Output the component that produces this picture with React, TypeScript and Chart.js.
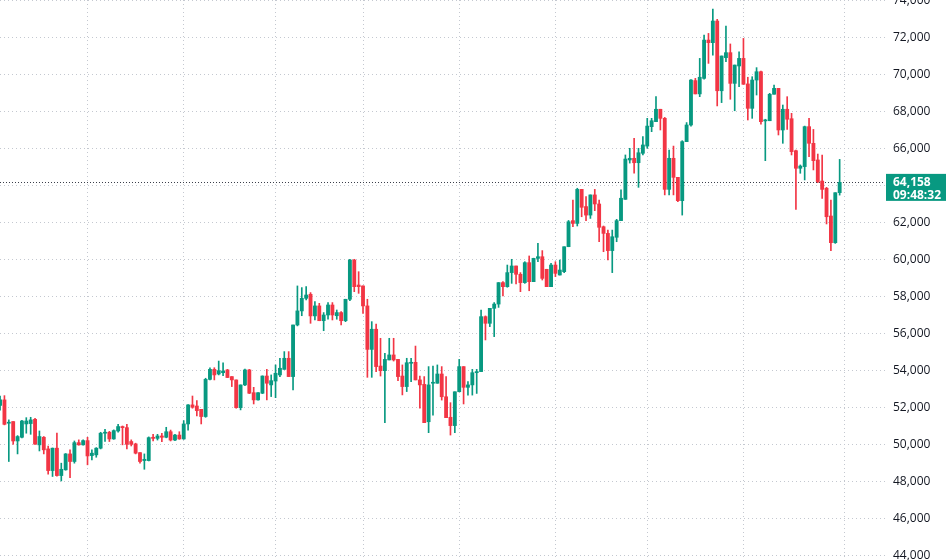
import React, { useEffect, useRef } from "react";
import { Chart, registerables } from "chart.js";

Chart.register(...registerables);

// ---- Data ----
const opens = [
  52100, 52400, 51140, 51230, 50180, 50380, 51100, 51120, 51350, 49970,
  50380, 49750, 48580, 49790, 48310, 48620, 49480, 49070, 50090, 49970,
  50200, 49390, 49430, 49790, 50600, 50650, 50290, 50720, 50960, 50900,
  50150, 50020, 49550, 49120, 49120, 50380, 50320, 50450, 50380, 50680,
  50230, 50500, 50290, 51100, 52130, 52070, 51890, 51500, 53510, 54050,
  53800, 53870, 54020, 53660, 53480, 51980, 53210, 54020, 52790, 52400,
  52760, 53690, 53210, 53420, 53750, 54050, 54650, 53660, 56450, 57210,
  57890, 58110, 56940, 57480, 56680, 56990, 57530, 56950, 57120, 56680,
  57840, 59960, 58610, 58560, 57480, 55130, 56220, 54230, 53980, 54560,
  54830, 54590, 53690, 53120, 54380, 54430, 53480, 53240, 51220, 53300,
  53300, 53800, 52570, 51460, 51010, 52840, 54200, 53080, 53210, 53870,
  53930, 56900, 56540, 57350, 57580, 58740, 58520, 59280, 59640, 59190,
  58740, 59820, 58790, 60050, 60140, 59460, 58520, 59690, 59150, 59330,
  60680, 62090, 61940, 63780, 62850, 62390, 63480, 62990, 61760, 61400,
  60470, 61190, 62090, 63240, 65370, 65460, 65220, 65730, 66120, 67170,
  67440, 68110, 67620, 63780, 65460, 64430, 63170, 66360, 67260, 69660,
  68940, 69780, 71850, 71710, 72880, 69110, 70900, 71170, 69510, 70450,
  70860, 69480, 68160, 69690, 70140, 67480, 67490, 68920, 69240, 66990,
  68110, 67600, 65870, 64920, 65010, 67170, 66270, 65370, 64230, 63840,
  62340, 60900, 63600,
];
const highs = [
  52600, 52630, 51320, 51230, 50470, 51300, 51440, 51460, 51400, 50720,
  50420, 49910, 49800, 50600, 48980, 49500, 49700, 50180, 50240, 50240,
  50380, 49700, 49820, 50650, 50810, 50700, 50780, 51080, 50990, 51080,
  50240, 50060, 49550, 49480, 50400, 50540, 50540, 50590, 50920, 50770,
  50540, 50680, 51280, 52150, 52610, 52360, 51890, 53570, 54140, 54140,
  54500, 54410, 54050, 53660, 53480, 53210, 54070, 54050, 53080, 52800,
  53700, 54050, 53750, 54290, 54650, 55010, 55010, 56450, 58560, 58470,
  58520, 58200, 57710, 57620, 57120, 57660, 57660, 57260, 57170, 57840,
  60000, 60000, 59330, 58560, 57840, 56630, 56500, 55730, 54920, 55730,
  55730, 54590, 54290, 54650, 54650, 55310, 53690, 53660, 54200, 54230,
  54290, 54200, 53660, 52250, 52840, 54590, 54200, 53390, 54050, 54050,
  57260, 56940, 57350, 57660, 58740, 58790, 59690, 60000, 59640, 59280,
  59870, 60180, 60060, 60860, 60470, 59460, 59780, 59870, 59960, 60680,
  62100, 63200, 63840, 63780, 63390, 63480, 63780, 63200, 61800, 61580,
  61580, 62160, 63750, 65640, 66000, 66540, 66000, 66630, 67620, 67620,
  68790, 68110, 67670, 65910, 66120, 64430, 66410, 67390, 69720, 69780,
  70860, 72120, 72210, 73530, 72970, 70990, 72610, 71640, 70500, 71220,
  71940, 69840, 69870, 70360, 70180, 67570, 68970, 69420, 69240, 68340,
  68790, 67890, 65910, 65100, 67200, 67620, 67020, 65690, 65640, 63890,
  63200, 63600, 65400,
];
const lows = [
  51850, 51050, 49070, 50000, 49480, 50350, 50600, 50540, 50000, 49640,
  49480, 48380, 48260, 48280, 48020, 48600, 48200, 48980, 49950, 49950,
  48890, 49160, 49300, 49750, 50150, 50150, 50270, 50650, 49970, 49750,
  49910, 49480, 48980, 48650, 49100, 50180, 50230, 50140, 50350, 50180,
  50200, 50270, 50270, 50770, 51950, 51530, 51100, 51460, 53480, 53480,
  53750, 53710, 53600, 53120, 51950, 51860, 53170, 52740, 52180, 52380,
  52740, 52400, 52580, 52520, 53660, 54050, 53660, 52940, 56400, 56950,
  57800, 56540, 56720, 56680, 56140, 56760, 56720, 56760, 56450, 56630,
  57770, 58250, 58160, 57080, 53620, 53620, 53930, 53690, 51170, 54560,
  54500, 53440, 52670, 52850, 53390, 53480, 51950, 51170, 50630, 51580,
  53300, 52390, 51440, 50500, 50630, 52840, 52180, 52660, 52660, 52750,
  53930, 55640, 56360, 55820, 57400, 58020, 58490, 58700, 58670, 58250,
  58700, 58300, 58790, 59870, 58880, 58520, 58520, 59060, 59150, 59280,
  60680, 61760, 61800, 62300, 62090, 62210, 62630, 60950, 60410, 59960,
  59280, 60950, 62090, 63240, 65200, 64650, 63890, 65640, 66000, 66900,
  67440, 66990, 63480, 63480, 63480, 63120, 62390, 66360, 67200, 68940,
  68790, 69730, 70590, 71040, 68290, 68470, 70680, 68650, 68030, 69330,
  69460, 67530, 67620, 68880, 67310, 65330, 67490, 68920, 66720, 66270,
  67020, 65640, 62700, 64650, 64290, 65550, 64830, 64140, 63290, 61910,
  60470, 60860, 63470,
];
const closes = [
  52400, 51080, 51190, 50180, 50420, 51260, 51260, 51320, 50010, 50420,
  49700, 48580, 49790, 48310, 48650, 49480, 49070, 50090, 49970, 50200,
  49370, 49520, 49790, 50600, 50650, 50290, 50740, 50960, 50900, 50000,
  50000, 49520, 49070, 49190, 50360, 50320, 50450, 50380, 50680, 50230,
  50500, 50290, 51100, 52130, 52000, 51820, 51500, 53510, 54050, 53750,
  53980, 53960, 53610, 53480, 51980, 53210, 54020, 52760, 52400, 52790,
  53690, 53300, 53440, 53840, 54110, 54650, 53660, 56450, 57210, 57890,
  58070, 56940, 57480, 56680, 56990, 57530, 56990, 57120, 56680, 57840,
  59960, 58520, 58520, 57480, 55130, 56220, 54200, 53980, 54590, 54830,
  54560, 53660, 53120, 54410, 54430, 53480, 53210, 51170, 53210, 53330,
  53800, 52570, 51440, 51010, 52840, 54200, 53080, 53210, 53870, 53930,
  56900, 56540, 57350, 57580, 58740, 58520, 59280, 59640, 59190, 58740,
  59820, 58790, 60050, 60140, 58970, 58520, 59690, 59240, 59420, 60680,
  62030, 61940, 63780, 62810, 62390, 63480, 62990, 61730, 61400, 60470,
  61220, 62090, 63300, 65420, 65460, 65220, 65760, 66180, 67200, 67490,
  68110, 67620, 63780, 65460, 64430, 63170, 66360, 67260, 69690, 68940,
  69840, 71850, 71710, 72880, 69110, 70990, 71170, 69510, 70500, 70860,
  69460, 68160, 69690, 70140, 67440, 67530, 68920, 69240, 66990, 68110,
  67570, 65820, 64920, 65040, 67170, 66270, 65330, 64200, 63780, 62300,
  60900, 63600, 64158,
];
const priceTicks = [
  44000, 46000, 48000, 50000, 52000, 54000, 56000, 58000, 60000, 62000,
  64000, 66000, 68000, 70000, 72000, 74000,
];
const timeGridIndex = [20, 42, 63, 83, 105, 127, 148, 170, 193];
const countdown = "09:48:32";

const UP = "#089981";
const DOWN = "#F23645";
const GRID = "#c4c8d0";
const FONT = "'Open Sans', Roboto, sans-serif";

const fmt = (v: number) => v.toLocaleString("en-US");

export default function App() {
  const ref = useRef<HTMLCanvasElement | null>(null);

  useEffect(() => {
    document.body.style.margin = "0";
    const canvas = ref.current;
    if (!canvas) return;
    const n = opens.length;
    const idx = opens.map((_, i) => i);
    const colors = idx.map((i) => (closes[i] >= opens[i] ? UP : DOWN));
    const lastPrice = closes[n - 1];

    const priceLabelPlugin = {
      id: "priceLabels",
      beforeDatasetsDraw(chart: any) {
        const { ctx, chartArea, scales } = chart;
        const y = scales.y.getPixelForValue(lastPrice);
        ctx.save();
        ctx.strokeStyle = "#3a3e4a";
        ctx.lineWidth = 1;
        ctx.setLineDash([1, 2]);
        ctx.beginPath();
        ctx.moveTo(chartArea.left, Math.round(y) + 0.5);
        ctx.lineTo(chartArea.right, Math.round(y) + 0.5);
        ctx.stroke();
        ctx.restore();
      },
      afterDraw(chart: any) {
        const { ctx, chartArea, scales } = chart;
        const ys = scales.y;
        ctx.save();
        ctx.font = `12px ${FONT}`;
        ctx.fillStyle = "#131722";
        ctx.textAlign = "left";
        ctx.textBaseline = "middle";
        for (const t of priceTicks) {
          ctx.fillText(fmt(t), chartArea.right + 8, ys.getPixelForValue(t));
        }
        const y = ys.getPixelForValue(lastPrice);
        ctx.fillStyle = UP;
        ctx.fillRect(chartArea.right + 1, y - 8.5, 61, 27);
        ctx.fillStyle = "#ffffff";
        ctx.font = `bold 12px ${FONT}`;
        ctx.fillText(fmt(lastPrice), chartArea.right + 8, y + 0.5);
        ctx.fillText(countdown, chartArea.right + 8, y + 13);
        ctx.restore();
      },
    };

    const chart = new Chart(canvas, {
      type: "bar",
      data: {
        datasets: [
          {
            label: "wick",
            data: idx.map((i) => ({ x: i, y: [lows[i], highs[i]] })) as any,
            backgroundColor: colors,
            borderWidth: 0,
            barThickness: 1,
            grouped: false,
            minBarLength: 1,
          },
          {
            label: "body",
            data: idx.map((i) => ({
              x: i,
              y: [Math.min(opens[i], closes[i]), Math.max(opens[i], closes[i])],
            })) as any,
            backgroundColor: colors,
            borderWidth: 0,
            barThickness: 3.2,
            grouped: false,
            minBarLength: 1,
          },
        ],
      },
      options: {
        animation: false,
        responsive: false,
        maintainAspectRatio: false,
        layout: { padding: 0 },
        plugins: {
          legend: { display: false },
          tooltip: { enabled: false },
        },
        scales: {
          x: {
            type: "linear",
            min: -0.014,
            max: 202.37,
            offset: false,
            border: { display: false, dash: [1, 3] },
            grid: {
              color: GRID,
              lineWidth: 1,
              drawTicks: false,
              offset: false,
            },
            ticks: { display: false },
            afterBuildTicks: (s: any) => {
              s.ticks = timeGridIndex.map((v) => ({ value: v }));
            },
            afterFit: (s: any) => {
              s.height = 0;
            },
          } as any,
          y: {
            type: "linear",
            position: "right",
            min: 43746,
            max: 74016,
            border: { display: false, dash: [1, 3] },
            grid: {
              color: GRID,
              lineWidth: 1,
              drawTicks: false,
            },
            ticks: { display: false },
            afterBuildTicks: (s: any) => {
              s.ticks = priceTicks.map((v) => ({ value: v }));
            },
            afterFit: (s: any) => {
              s.width = 61;
            },
          } as any,
        },
      },
      plugins: [priceLabelPlugin],
    });

    return () => chart.destroy();
  }, []);

  return (
    <div style={{ width: 946, height: 560 }}>
      <canvas ref={ref} width={946} height={560} style={{ display: "block" }} />
    </div>
  );
}
